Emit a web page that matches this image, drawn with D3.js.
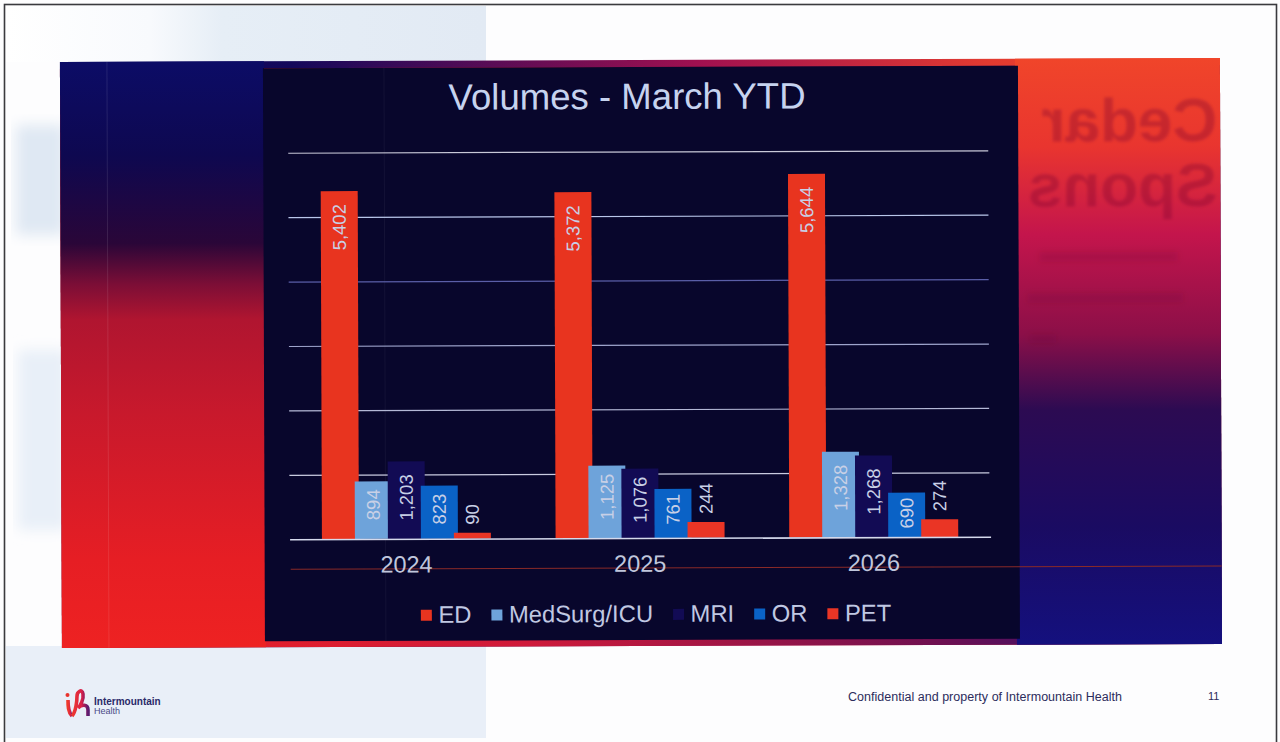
<!DOCTYPE html>
<html>
<head>
<meta charset="utf-8">
<title>Volumes - March YTD</title>
<script src="https://cdn.jsdelivr.net/npm/d3@7"></script>
<style>
  html, body { margin: 0; padding: 0; background: #fff; overflow: hidden; }
  svg { display: block; font-family: "Liberation Sans", Arial, sans-serif; }
</style>
</head>
<body>
<svg id="slide" width="1280" height="742"></svg>
<script>
// chart data
const years = ["2024", "2025", "2026"];
const seriesNames = ["ED", "MedSurg/ICU", "MRI", "OR", "PET"];
const edValues = [5402, 5372, 5644];
const medSurgValues = [894, 1125, 1328];
const mriValues = [1203, 1076, 1268];
const orValues = [823, 761, 690];
const petValues = [90, 244, 274];
const gridTicks = [1000, 2000, 3000, 4000, 5000, 6000];
const seriesColors = ["#e8341f", "#6ea3da", "#120b54", "#0a62c6", "#ea3525"];

const seriesValues = [edValues, medSurgValues, mriValues, orValues, petValues];

const svg = d3.select("#slide");
const defs = svg.append("defs");

function gradient(id, stops, horizontal) {
    const g = defs.append("linearGradient").attr("id", id)
        .attr("x1", 0).attr("y1", 0)
        .attr("x2", horizontal ? 1 : 0).attr("y2", horizontal ? 0 : 1);
    stops.forEach(s => g.append("stop").attr("offset", s[0]).attr("stop-color", s[1]));
}

gradient("leftBand", [[0, "#0c0c66"], [0.16, "#0e0850"], [0.31, "#2a0638"], [0.38, "#7c0e36"], [0.44, "#b01530"], [0.6, "#c8192c"], [0.85, "#e61e24"], [1, "#ee2222"]]);
gradient("rightBand", [[0, "#f0452a"], [0.15, "#e9352f"], [0.3, "#c4154c"], [0.47, "#8c0f48"], [0.6, "#2c0b52"], [0.8, "#1a0b62"], [1, "#14107e"]]);
gradient("topBand", [[0, "#0c0c66"], [0.2, "#14085a"], [0.55, "#a01050"], [0.8, "#e23a30"], [1, "#f0452a"]], true);
gradient("bottomBand", [[0, "#ee2222"], [0.4, "#d01a3a"], [0.75, "#701050"], [1, "#14107e"]], true);
gradient("logoGrad", [[0, "#ef3a2c"], [0.6, "#d8204a"], [1, "#5a1a70"]], true);
gradient("washTop", [[0, "#ffffff"], [0.3, "#f8fafd"], [0.45, "#e6eef6"], [1, "#e2eaf4"]], true);

defs.append("filter").attr("id", "soft").append("feGaussianBlur").attr("stdDeviation", 1.8);
defs.append("filter").attr("id", "softer").append("feGaussianBlur").attr("stdDeviation", 3);
defs.append("filter").attr("id", "wide").append("feGaussianBlur").attr("stdDeviation", 7);
defs.append("filter").attr("id", "logoBlur").append("feGaussianBlur").attr("stdDeviation", 0.4);

// page, pale watermark, scan frame
svg.append("rect").attr("width", 1280).attr("height", 742).attr("fill", "#fdfdfe");
svg.append("rect").attr("x", 6).attr("y", 6).attr("width", 480).attr("height", 56).attr("fill", "url(#washTop)");
svg.append("rect").attr("x", 6).attr("y", 646).attr("width", 480).attr("height", 92).attr("fill", "#e9eff8");
svg.append("rect").attr("x", 16).attr("y", 125).attr("width", 50).attr("height", 110).attr("fill", "#dfe8f3").attr("filter", "url(#wide)");
svg.append("rect").attr("x", 18).attr("y", 350).attr("width", 50).attr("height", 180).attr("fill", "#e8eff8").attr("filter", "url(#wide)");
svg.append("rect").attr("x", 4.5).attr("y", 4.5).attr("width", 1272).attr("height", 760)
    .attr("fill", "none").attr("stroke", "#3a3a3e").attr("stroke-width", 1.6);

// whole slide sits a little crooked in the scan
const page = svg.append("g").attr("transform", "rotate(-0.2 640 371)");

// gradient backdrop round the chart panel
page.append("rect").attr("x", 61).attr("y", 60).attr("width", 1160).attr("height", 586).attr("fill", "url(#topBand)");
page.append("rect").attr("x", 61).attr("y", 67).attr("width", 1160).attr("height", 579).attr("fill", "url(#bottomBand)");
page.append("rect").attr("x", 61).attr("y", 60).attr("width", 204).attr("height", 586).attr("fill", "url(#leftBand)");
page.append("rect").attr("x", 1016).attr("y", 60).attr("width", 205).attr("height", 586).attr("fill", "url(#rightBand)");
page.append("line").attr("x1", 108).attr("x2", 108).attr("y1", 60).attr("y2", 646)
    .attr("stroke", "#fff").attr("stroke-opacity", 0.1);

// show-through from the back of the sheet
const ghost = page.append("g").attr("transform", "translate(2438,0) scale(-1,1)")
    .attr("fill", "#7a1030").attr("fill-opacity", 0.32).attr("filter", "url(#soft)")
    .style("font-weight", "bold").style("font-size", "62px");
ghost.append("text").attr("x", 1220).attr("y", 143).text("Cedar");
ghost.append("text").attr("x", 1220).attr("y", 208).text("Spons");
const ghostLines = page.append("g").attr("fill", "#5a0a30").attr("fill-opacity", 0.16).attr("filter", "url(#softer)");
ghostLines.append("rect").attr("x", 1040).attr("y", 254).attr("width", 138).attr("height", 9);
ghostLines.append("rect").attr("x", 1028).attr("y", 295).attr("width", 155).attr("height", 9);
ghostLines.append("rect").attr("x", 1030).attr("y", 336).attr("width", 26).attr("height", 8);

// chart panel
page.append("rect").attr("x", 264).attr("y", 67).attr("width", 755).attr("height", 573).attr("fill", "#08062c");
page.append("line").attr("x1", 385).attr("x2", 385).attr("y1", 67).attr("y2", 640)
    .attr("stroke", "#fff").attr("stroke-opacity", 0.05);
page.append("line").attr("x1", 290).attr("x2", 1221).attr("y1", 568).attr("y2", 568)
    .attr("stroke", "#8a2a28").attr("stroke-width", 1);

page.append("text").attr("x", 628).attr("y", 109).attr("text-anchor", "middle")
    .style("font-size", "36.6px").attr("fill", "#c6d3ef").text("Volumes - March YTD");

const x0 = d3.scaleBand().domain(years).range([289, 990]);
const step = 33;
const barWidth = 37;
const x1 = d3.scaleBand().domain(seriesNames)
    .range([x0.bandwidth() / 2 - (step * 4 + barWidth) / 2, x0.bandwidth() / 2 - (step * 4 + barWidth) / 2 + step * 5]);
const y = d3.scaleLinear().domain([0, 6000]).range([538, 151.5]);

// gridlines, the scan washes some of them out
const gridTone = { 1000: "#c9cbe0", 2000: "#b4b8d6", 3000: "#9ea4cc", 4000: "#5a5ea8", 5000: "#b9c6ea", 6000: "#c8c8d8" };
const grid = page.append("g").attr("transform", "translate(289,0)")
    .call(d3.axisLeft(y).tickValues(gridTicks).tickSize(-700).tickFormat(""));
grid.select(".domain").remove();
grid.selectAll(".tick line").attr("stroke", d => gridTone[d]).attr("stroke-width", 1.2);

// bars, each series overlaps the one before it
const barData = seriesNames.flatMap((name, s) =>
    years.map((year, i) => ({ name, year, value: seriesValues[s][i], color: seriesColors[s] })));

page.append("g").selectAll("rect")
    .data(barData)
    .join("rect")
    .attr("x", d => x0(d.year) + x1(d.name))
    .attr("y", d => y(d.value))
    .attr("width", barWidth)
    .attr("height", d => y(0) - y(d.value))
    .attr("fill", d => d.color);

// x axis
const xAxis = page.append("g").attr("transform", "translate(0,538)")
    .call(d3.axisBottom(x0).tickSize(0).tickPadding(17));
xAxis.select(".domain").attr("stroke", "#d5d9ec").attr("stroke-width", 1.6);
xAxis.selectAll("text").style("font-size", "23.5px").style("font-family", "inherit").attr("fill", "#c0c6dc");

// value labels, rotated, inside the bar except for PET
function labelShift(d) {
    if (d.name === "PET") return -8;
    return d.value > 1200 ? 13 : d.value >= 800 ? 8 : 5;
}
const fmt = d3.format(",");
page.append("g").selectAll("text")
    .data(barData)
    .join("text")
    .attr("transform", d => `translate(${x0(d.year) + x1(d.name) + barWidth / 2 + 6.5},${y(d.value) + labelShift(d)}) rotate(-90)`)
    .attr("text-anchor", d => d.name === "PET" ? "start" : "end")
    .style("font-size", "18.5px")
    .attr("fill", "#c8d0e6")
    .text(d => fmt(d.value));

// legend
const legend = page.append("g").attr("transform", "translate(420,622)");
let legendX = 0;
seriesNames.forEach((name, i) => {
    const item = legend.append("g").attr("transform", `translate(${legendX},0)`);
    item.append("rect").attr("y", -13).attr("width", 11).attr("height", 11).attr("fill", seriesColors[i]);
    const label = item.append("text").attr("x", 17.5).style("font-size", "23.8px").attr("fill", "#c0c8e2").text(name);
    legendX += 17.5 + label.node().getComputedTextLength() + 20;
});

// footer
const footer = svg.append("g");
footer.append("text").attr("x", 848).attr("y", 701).style("font-size", "12.5px").attr("fill", "#2c2c5c")
    .attr("textLength", 274).text("Confidential and property of Intermountain Health");
footer.append("text").attr("x", 1208).attr("y", 700).style("font-size", "11px").attr("fill", "#2c2c5c").text("11");

const logo = footer.append("g").attr("fill", "none").attr("stroke", "url(#logoGrad)")
    .attr("stroke-width", 3.6).attr("filter", "url(#logoBlur)");
logo.append("path").attr("d", "M68 700 C68 706 68 712 72 716");
logo.append("path").attr("d", "M72 716 C76 712 77 700 77 696 C77 692 82 688 83 694 C84 700 80 706 78 708 C82 704 88 704 88 710 L88 716");
footer.append("circle").attr("cx", 67.5).attr("cy", 695).attr("r", 2).attr("fill", "#e8322c");
footer.append("text").attr("x", 94).attr("y", 705).style("font-size", "10px").style("font-weight", "bold")
    .attr("fill", "#2a2a68").text("Intermountain");
footer.append("text").attr("x", 94).attr("y", 714).style("font-size", "9px")
    .attr("fill", "#4a4a88").text("Health");
</script>
</body>
</html>
